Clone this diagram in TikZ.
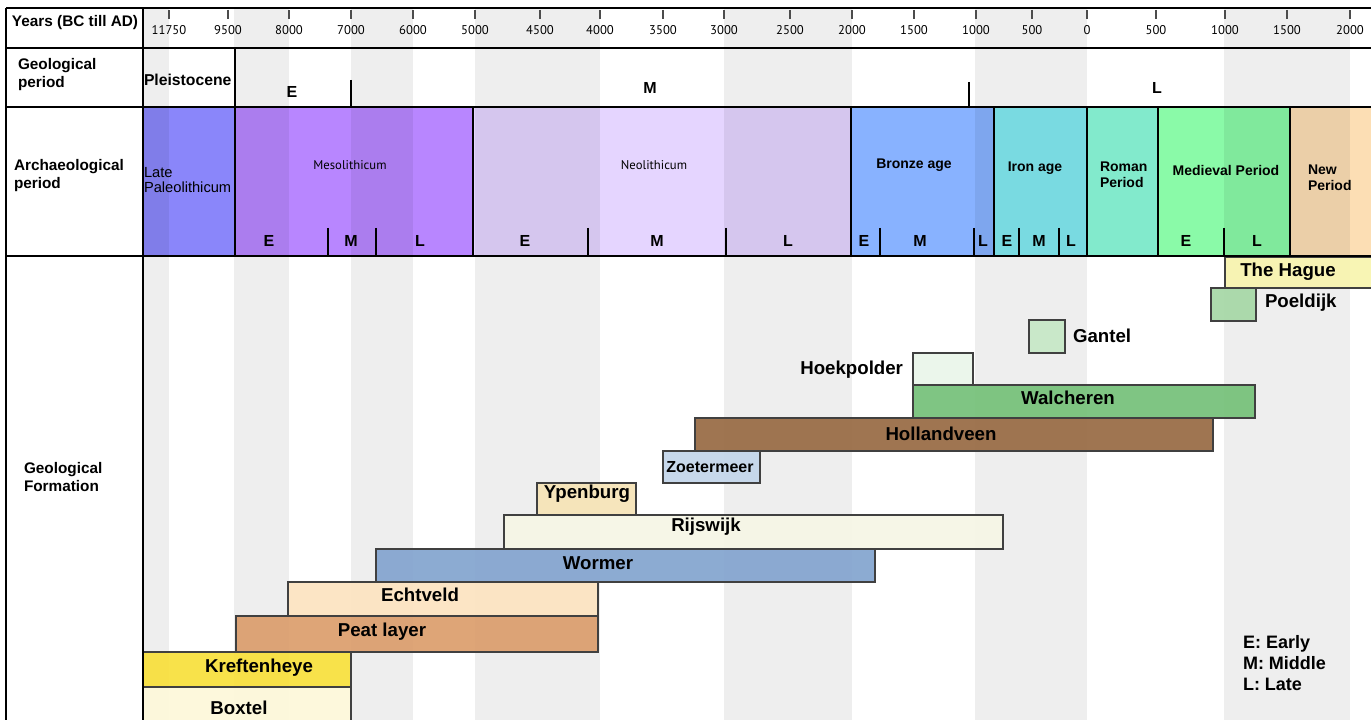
\documentclass[tikz,border=0pt]{standalone}
\usepackage{fontspec}
\setmainfont{Liberation Sans}
\newfontfamily\gillfont{PT Sans}
\usetikzlibrary{positioning}

\definecolor{cLatePal}{HTML}{8A86FA}
\definecolor{cMeso}{HTML}{B886FF}
\definecolor{cNeo}{HTML}{E5D5FF}
\definecolor{cBronze}{HTML}{88B2FF}
\definecolor{cIron}{HTML}{82EAF2}
\definecolor{cRoman}{HTML}{82EACC}
\definecolor{cMedi}{HTML}{8AFAA8}
\definecolor{cNewP}{HTML}{FCDEB4}
\definecolor{cHague}{HTML}{F8F4B0}
\definecolor{cPoel}{HTML}{A8D8A8}
\definecolor{cGantel}{HTML}{C8E8C8}
\definecolor{cHoek}{HTML}{EAF5EA}
\definecolor{cWalch}{HTML}{78C27C}
\definecolor{cHolland}{HTML}{9A6E48}
\definecolor{cZoeter}{HTML}{C4D6EA}
\definecolor{cYpen}{HTML}{F6E4B8}
\definecolor{cRijs}{HTML}{F6F6E6}
\definecolor{cWormer}{HTML}{86A6D0}
\definecolor{cEcht}{HTML}{FCE4C2}
\definecolor{cPeat}{HTML}{DCA070}
\definecolor{cKreft}{HTML}{F8E040}
\definecolor{cBoxtel}{HTML}{FDF8DA}
\definecolor{cStripe}{HTML}{EEEEEE}

\begin{document}
\begin{tikzpicture}[x=0.75pt, y=-0.75pt,
    every node/.style={inner sep=0pt, outer sep=0pt},
    rowlbl/.style={align=left, anchor=west, font=\fontsize{11.5}{13.5}\selectfont\bfseries},
    tickno/.style={font=\gillfont\fontsize{9.5}{10}\selectfont},
    tickline/.style={draw=black!70, line width=0.8pt},
    period/.style={draw=black, line width=1.1pt},
    perlbl/.style={align=left, font=\fontsize{10.5}{12}\selectfont\bfseries},
    gilllbl/.style={font=\gillfont\fontsize{9.5}{11}\selectfont},
    sublbl/.style={font=\fontsize{12}{14}\selectfont\bfseries},
    subline/.style={line width=1pt},
    layer/.style={draw=black!75, line width=1pt, fill opacity=0.95},
    laylbl/.style={font=\fontsize{14}{16}\selectfont\bfseries},
    stripe/.style={fill=black, fill opacity=0.067},
    frame/.style={line width=1.5pt}]
\useasboundingbox (0,0) rectangle (1371,720);

% archaeological periods
\foreach \a/\b/\c in {143/235/cLatePal, 235/473/cMeso, 473/851/cNeo, 851/994/cBronze,
    994/1087/cIron, 1087/1158/cRoman, 1158/1290/cMedi, 1290/1376/cNewP}
  \filldraw[period, fill=\c] (\a,107) rectangle (\b,256);

% grey stripes
\foreach \a/\b in {143/169, 234/289, 351/413, 475/600, 724/852, 975/1087, 1224/1350} {
  \fill[stripe] (\a,8) rectangle (\b,256);
  \fill[cStripe] (\a,256) rectangle (\b,722);
}

% geological formations
\foreach \a/\b/\c/\d/\col in {1225/257/1376/288/cHague, 1211/288/1256/321/cPoel,
    1029/320/1065/353/cGantel, 913/353/973/385/cHoek, 913/385/1255/418/cWalch,
    695/418/1213/451/cHolland, 663/451/760/483/cZoeter, 537/483/636/515/cYpen,
    504/515/1003/549/cRijs, 376/549/875/582/cWormer, 288/582/598/616/cEcht,
    236/616/598/652/cPeat, 143/652/351/687/cKreft, 143/687/351/724/cBoxtel}
  \filldraw[layer, fill=\col] (\a,\b) rectangle (\c,\d);

% year axis
\foreach \x/\t [count=\i] in {169/11750, 228/9500, 289/8000, 351/7000, 413/6000, 475/5000,
    540/4500, 600/4000, 663/3500, 724/3000, 790/2500, 852/2000, 914/1500, 976/1000,
    1032/500, 1087/0, 1156/500, 1225/1000, 1287/1500, 1350/2000} {
  \draw[tickline] (\x,10) -- (\x,19);
  \node[tickno] (tk\i) at (\x,30) {\t};
}

% geological period
\node[anchor=west, font=\fontsize{11.8}{13}\selectfont\bfseries] (pleist) at (144,80) {Pleistocene};
\draw[subline] (351,80) -- (351,107);
\draw[subline] (969,82) -- (969,107);
\node[sublbl] (gE) at (292,92) {E};
\node[sublbl] (gM) at (650,88) {M};
\node[sublbl] (gL) at (1157,88) {L};

% archaeological labels
\node[anchor=west, align=left, font=\fontsize{11}{11.5}\selectfont] (lpal) at (144,180) {Late\\Paleolithicum};
\node[gilllbl] (meso) at (350,165) {Mesolithicum};
\node[gilllbl] (neo) at (654,165) {Neolithicum};
\node[perlbl] (bronze) at (914,165) {Bronze age};
\node[perlbl] (iron) at (1035,168) {Iron age};
\node[perlbl, anchor=west] (roman) at (1100,175) {Roman\\Period};
\node[perlbl] (medi) at (1226,170) {Medieval Period};
\node[perlbl, anchor=west] (newp) at (1308,178) {New\\Period};

\foreach \x in {328, 376, 588, 726, 880, 974, 1019, 1059, 1224}
  \draw[subline] (\x,228) -- (\x,256);
\foreach \x/\t [count=\i] in {269/E, 351/M, 420/L, 525/E, 657/M, 788/L, 864/E, 920/M,
    983/L, 1007/E, 1039/M, 1071/L, 1186/E, 1257/L}
  \node[sublbl] (s\i) at (\x,241) {\t};

% formation labels
\node[laylbl] (hague) at (1288,272) {The Hague};
\node[laylbl, anchor=west] (poel) at (1265,303) {Poeldijk};
\node[laylbl, anchor=west] (gantel) at (1073,336) {Gantel};
\node[laylbl, anchor=east] (hoek) at (903,370) {Hoekpolder};
\node[laylbl] (walch) at (1068,398) {Walcheren};
\node[laylbl] (holland) at (941,434) {Hollandveen};
\node[laylbl, font=\fontsize{12}{14}\selectfont\bfseries] (zoeter) at (710,467) {Zoetermeer};
\node[laylbl] (ypen) at (587,494) {Ypenburg};
\node[laylbl] (rijs) at (706,527) {Rijswijk};
\node[laylbl] (wormer) at (598,563) {Wormer};
\node[laylbl] (echt) at (420,595) {Echtveld};
\node[laylbl] (peat) at (382,632) {Peat layer};
\node[laylbl] (kreft) at (259,668) {Kreftenheye};
\node[laylbl] (boxtel) at (239,708) {Boxtel};

% legend
\node[anchor=west, align=left, font=\fontsize{13.5}{15.75}\selectfont\bfseries] (legend) at (1243,663) {E: Early\\M: Middle\\L: Late};

% row labels
\node[rowlbl] (years) at (12,23) {Years (BC till AD)};
\node[rowlbl] (geoper) at (18,75) {Geological\\period};
\node[rowlbl] (archper) at (14,176) {Archaeological\\period};
\node[rowlbl] (geoform) at (24,477) {Geological\\Formation};

% frame
\draw[frame] (6,8) -- (1372,8);
\draw[frame] (6,48) -- (1372,48);
\draw[frame] (6,107) -- (1372,107);
\draw[frame] (6,256) -- (1372,256);
\draw[frame] (6,8) -- (6,722);
\draw[frame] (143,8) -- (143,722);
\draw[frame] (235,48) -- (235,107);
\end{tikzpicture}
\end{document}
